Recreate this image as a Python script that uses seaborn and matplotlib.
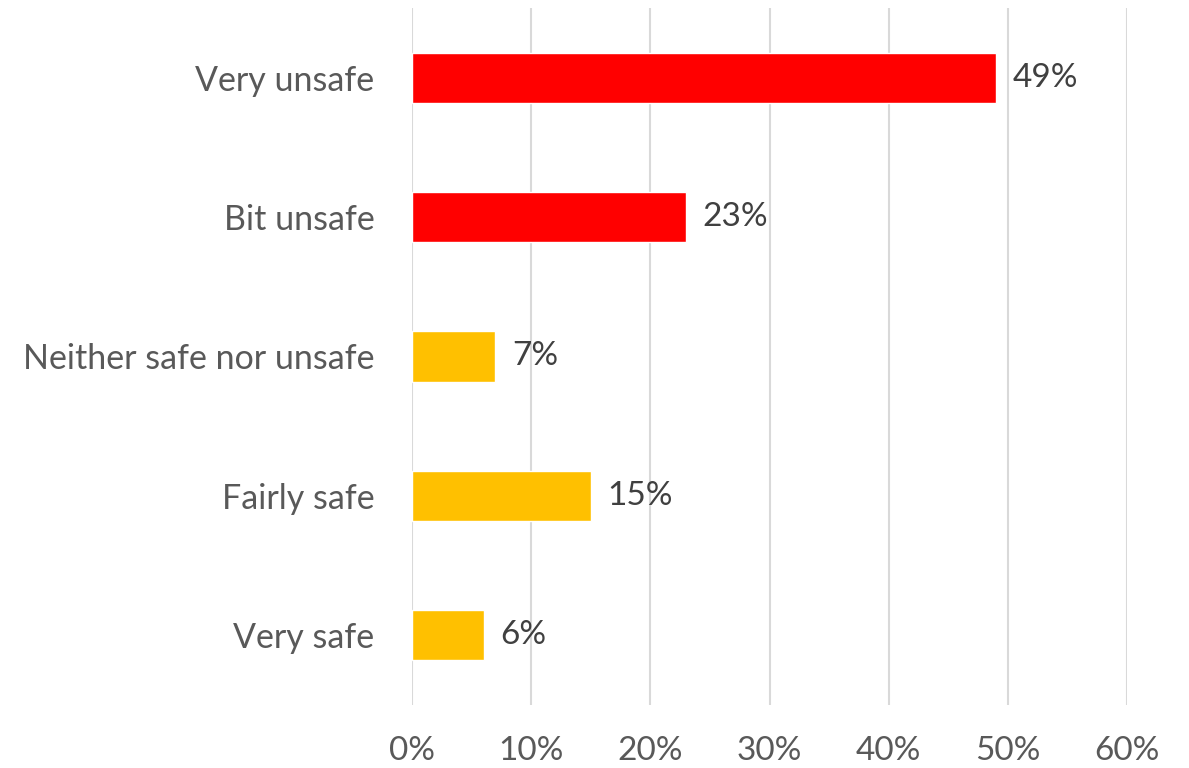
import matplotlib
matplotlib.use("Agg")
import matplotlib.pyplot as plt
import seaborn as sns
import pandas as pd
from matplotlib.ticker import FuncFormatter

categories = ["Very unsafe", "Bit unsafe", "Neither safe nor unsafe", "Fairly safe", "Very safe"]
values = [49, 23, 7, 15, 6]
colors = ["#FF0000", "#FF0000", "#FFC000", "#FFC000", "#FFC000"]
x_ticks = [0, 10, 20, 30, 40, 50, 60]

sns.set_theme(style="white")
plt.rcParams["font.family"] = ["Lato", "DejaVu Sans"]

df = pd.DataFrame({"category": categories, "value": values})

fig = plt.figure(figsize=(11.89, 7.68), dpi=100)
ax = fig.add_axes([412 / 1189, 1 - 705 / 768, (1127 - 412) / 1189, (705 - 8) / 768])

sns.barplot(data=df, x="value", y="category", hue="category", palette=colors,
            order=categories, width=0.36, legend=False, ax=ax, saturation=1)

ax.set_xlim(0, 60)
ax.set_ylim(4.5, -0.5)
ax.set_xticks(x_ticks)
ax.xaxis.set_major_formatter(FuncFormatter(lambda v, _: f"{v:.0f}%"))
ax.grid(axis="x", color="#D9D9D9", linewidth=1.5)
ax.set_axisbelow(True)
for s in ax.spines.values():
    s.set_visible(False)
ax.set_xlabel("")
ax.set_ylabel("")
ax.tick_params(axis="x", length=0, pad=22, labelsize=24, labelcolor="#595959")
ax.tick_params(axis="y", length=0, pad=27, labelsize=24.5, labelcolor="#595959")

for i, v in enumerate(values):
    ax.annotate(f"{v}%", xy=(v, i), xytext=(12, 0), textcoords="offset points",
                ha="left", va="center", fontsize=24, color="#404040")

fig.savefig("out.png", dpi=100)
